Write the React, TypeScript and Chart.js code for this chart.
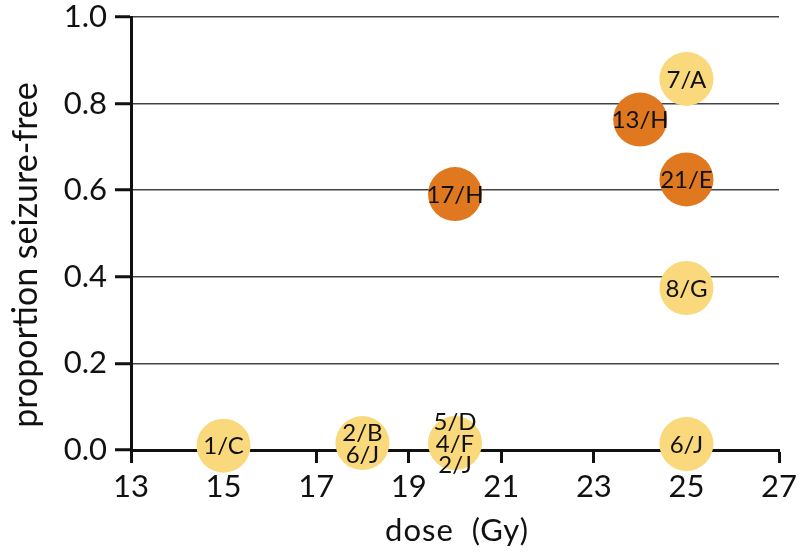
import React, { useEffect, useRef } from "react";
import { Chart, registerables } from "chart.js";

Chart.register(...registerables);

// Data
const doses = [15, 18, 20, 25, 20, 24, 25, 25, 25];
const proportions = [0.01, 0.016, 0.016, 0.014, 0.591, 0.763, 0.857, 0.625, 0.374];
const pointLabels = [
  ["1/C"],
  ["2/B", "6/J"],
  ["5/D", "4/F", "2/J"],
  ["6/J"],
  ["17/H"],
  ["13/H"],
  ["7/A"],
  ["21/E"],
  ["8/G"],
];
const isHighlighted = [false, false, false, false, true, true, false, true, false];

const xMin = 13;
const xMax = 27;
const xStep = 2;
const yMin = 0;
const yMax = 1;
const yStep = 0.2;

const xTitle = "dose  (Gy)";
const yTitle = "proportion seizure-free";

const YELLOW = "#F9D97B";
const ORANGE = "#E0781F";
const FONT = "Lato, 'Open Sans', sans-serif";

function buildDataset(flag: boolean) {
  const pts: { x: number; y: number; labels: string[] }[] = [];
  doses.forEach((d, i) => {
    if (isHighlighted[i] === flag) pts.push({ x: d, y: proportions[i], labels: pointLabels[i] });
  });
  return pts;
}

const labelPlugin = {
  id: "pointTextLabels",
  afterDatasetsDraw(chart: any) {
    const ctx = chart.ctx;
    ctx.save();
    ctx.fillStyle = "#111";
    ctx.font = `24px ${FONT}`;
    ctx.textAlign = "center";
    ctx.textBaseline = "middle";
    const lh = 21.5;
    chart.data.datasets.forEach((ds: any, di: number) => {
      const meta = chart.getDatasetMeta(di);
      meta.data.forEach((el: any, i: number) => {
        const lines: string[] = ds.data[i].labels;
        const n = lines.length;
        lines.forEach((t, k) => {
          ctx.fillText(t, el.x, el.y + (k - (n - 1) / 2) * lh + 1);
        });
      });
    });
    ctx.restore();
  },
};

const axisTitlePlugin = {
  id: "axisTitles",
  afterDraw(chart: any) {
    const ctx = chart.ctx;
    const area = chart.chartArea;
    ctx.save();
    ctx.fillStyle = "#111";
    ctx.textAlign = "center";
    ctx.textBaseline = "middle";
    // x title
    ctx.font = `31px ${FONT}`;
    (ctx as any).letterSpacing = "1px";
    ctx.fillText(xTitle, (area.left + area.right) / 2 + 2, area.bottom + 81);
    // y title
    ctx.font = `34px ${FONT}`;
    (ctx as any).letterSpacing = "0px";
    ctx.translate(26, area.bottom - 195);
    ctx.rotate(-Math.PI / 2);
    ctx.fillText(yTitle, 0, 0);
    ctx.restore();
  },
};

export default function App() {
  const ref = useRef<HTMLCanvasElement | null>(null);
  useEffect(() => {
    if (!ref.current) return;
    const chart = new Chart(ref.current, {
      type: "scatter",
      data: {
        datasets: [
          {
            data: buildDataset(false) as any,
            backgroundColor: YELLOW,
            borderWidth: 0,
            pointRadius: 27,
            pointHoverRadius: 27,
            clip: false as any,
          },
          {
            data: buildDataset(true) as any,
            backgroundColor: ORANGE,
            borderWidth: 0,
            pointRadius: 27,
            pointHoverRadius: 27,
            clip: false as any,
          },
        ],
      },
      options: {
        animation: false,
        responsive: true,
        maintainAspectRatio: false,
        layout: { autoPadding: false, padding: { top: 17, right: 21, left: 0, bottom: 0 } },
        plugins: {
          legend: { display: false },
          tooltip: { enabled: false },
        },
        scales: {
          x: {
            type: "linear",
            min: xMin,
            max: xMax,
            afterFit: (s: any) => {
              s.height = 107;
              s.paddingLeft = 0;
              s.paddingRight = 0;
            },
            ticks: {
              stepSize: xStep,
              color: "#111",
              font: { family: FONT, size: 31 },
              padding: 5,
            },
            grid: {
              drawOnChartArea: false,
              drawTicks: true,
              tickLength: 13,
              tickColor: "#111",
              tickWidth: 3,
            },
            border: { color: "#111", width: 3 },
          },
          y: {
            type: "linear",
            min: yMin,
            max: yMax,
            afterFit: (s: any) => {
              s.width = 131;
              s.paddingTop = 0;
              s.paddingBottom = 0;
            },
            ticks: {
              stepSize: yStep,
              color: "#111",
              font: { family: FONT, size: 31 },
              padding: 8,
              callback: (v: any) => Number(v).toFixed(1),
            },
            grid: {
              color: "#444",
              lineWidth: 1.5,
              drawTicks: true,
              tickLength: 16,
              tickColor: "#111",
              tickWidth: 3,
            },
            border: { color: "#111", width: 3 },
          },
        },
      },
      plugins: [labelPlugin, axisTitlePlugin],
    });
    return () => chart.destroy();
  }, []);
  return (
    <div style={{ position: "absolute", left: 0, top: 0, width: 800, height: 557 }}>
      <canvas ref={ref} />
    </div>
  );
}
